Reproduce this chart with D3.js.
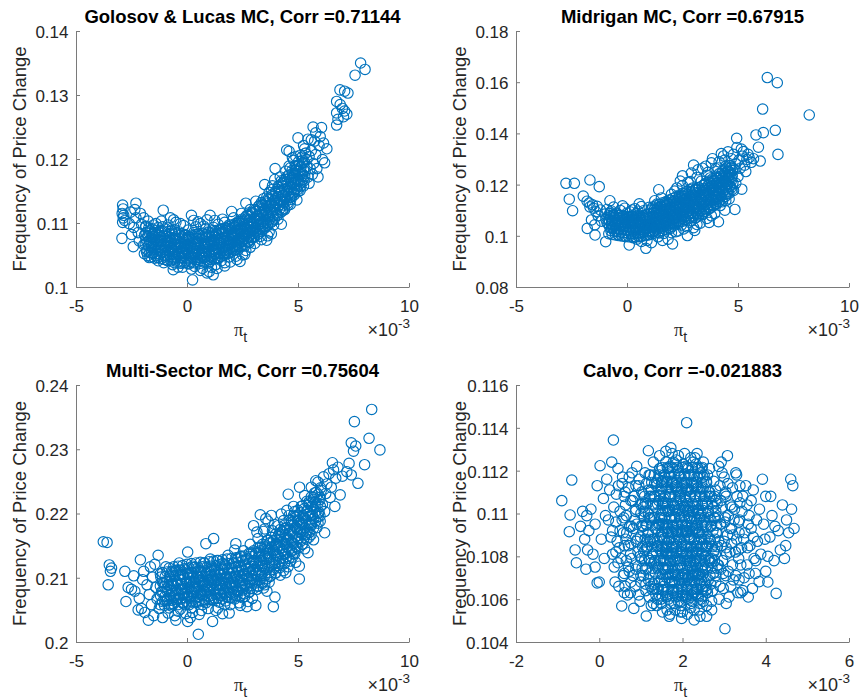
<!DOCTYPE html>
<html><head><meta charset="utf-8">
<script src="https://cdn.jsdelivr.net/npm/d3@7"></script>
<style>
body{margin:0;background:#fff}
svg{display:block}
text{font-family:"Liberation Sans",Arial,Helvetica,sans-serif;fill:#262626}
</style>
</head><body>
<svg id="c" width="861" height="700"></svg>
<script>
// x values are pi_t in units of 1e-3 (axis shows "x10^-3"), y = frequency of price change
const titles = [
  "Golosov & Lucas MC, Corr =0.71144",
  "Midrigan MC, Corr =0.67915",
  "Multi-Sector MC, Corr =0.75604",
  "Calvo, Corr =-0.021883"
];
const yLabel = "Frequency of Price Change";
const xTicks1 = [-5, 0, 5, 10];
const xTicks4 = [-2, 0, 2, 4, 6];
const yTicksGL = [0.1, 0.11, 0.12, 0.13, 0.14];
const yTicksMid = [0.08, 0.1, 0.12, 0.14, 0.16, 0.18];
const yTicksMS = [0.2, 0.21, 0.22, 0.23, 0.24];
const yTicksCalvo = [0.104, 0.106, 0.108, 0.11, 0.112, 0.114, 0.116];

const glPoints = [
[-2.9,.1128],[-2.88,.1122],[-2.92,.1115],[-2.87,.1108],[-2.9,.1101],[-2.93,.1076],[-2.85,.1112],[-2.8,.1104],
[-2.3,.1131],[-2.35,.1121],[-2.4,.1093],[-2.42,.1063],[-2.2,.1085],[-2.55,.1117],[-2.6,.1099],[-2.15,.1072],[-2.3,.1108],[-2.05,.1098],[-2.5,.1082],[-2.1,.1115],
[-1.95,.1066],[-1.9,.1081],[-1.85,.1095],[-1.8,.1058],[-1.75,.1103],[-1.7,.1072],[-1.65,.1088],[-1.6,.1053],[-1.55,.1079],[-1.5,.1097],[-1.95,.1108],[-1.7,.1046],[-1.85,.1075],[-1.6,.1066],[-1.5,.1062],
[-1.45,.1085],[-1.4,.1049],[-1.35,.1071],[-1.3,.1093],[-1.25,.1062],[-1.2,.1078],[-1.15,.1103],[-1.1,.1055],[-1.07,.112],[-1.05,.1068],[-1.0,.1086],[-1.3,.1041],[-1.2,.1057],[-1.1,.1094],[-1.0,.1047],[-1.4,.1099],[-1.15,.1072],[-1.05,.1038],
[-0.95,.1062],[-0.9,.1079],[-0.85,.1097],[-0.8,.1051],[-0.75,.1069],[-0.7,.1088],[-0.65,.1035],[-0.62,.1027],[-0.6,.1058],[-0.55,.1076],[-0.5,.1101],[-0.9,.1042],[-0.75,.1108],[-0.6,.1044],[-0.5,.1064],[-0.85,.1071],[-0.7,.106],[-0.55,.1089],[-0.8,.1083],
[-0.45,.1052],[-0.4,.1071],[-0.35,.1086],[-0.3,.1039],[-0.25,.1063],[-0.2,.1078],[-0.15,.1096],[-0.1,.1048],[-0.05,.1067],[0,.1058],[-0.4,.1031],[-0.3,.1099],[-0.2,.1055],[-0.1,.1082],[0,.1074],[-0.35,.1061],[-0.05,.1041],[-0.25,.1046],[-0.15,.107],
[0.05,.1089],[0.1,.1036],[0.15,.1062],[0.2,.1112],[0.25,.1011],[0.3,.1051],[0.35,.1071],[0.4,.1094],[0.45,.1043],[0.5,.1065],[0.1,.1078],[0.2,.1028],[0.3,.1085],[0.4,.1056],[0.5,.1102],[0.15,.1048],[0.35,.1032],[0.45,.1076],[0.25,.106],[0.05,.1054],
[0.55,.1081],[0.6,.1037],[0.65,.1057],[0.7,.1073],[0.75,.1095],[0.8,.1046],[0.85,.1063],[0.9,.1022],[0.95,.1086],[1.0,.1053],[0.6,.1099],[0.7,.1029],[0.8,.1068],[0.9,.1078],[1.0,.1038],[0.65,.1049],[0.75,.1061],[0.85,.1091],[0.95,.1066],[1.04,.1112],
[1.05,.1072],[1.1,.1047],[1.15,.1088],[1.18,.1019],[1.2,.1059],[1.25,.1079],[1.3,.1035],[1.35,.1067],[1.4,.1098],[1.45,.1053],[1.5,.1074],[1.1,.1031],[1.2,.1093],[1.3,.1062],[1.4,.1044],[1.5,.1089],[1.25,.1052],[1.35,.1082],[1.45,.1068],[1.15,.1064],
[1.55,.1041],[1.6,.1062],[1.65,.1083],[1.7,.1101],[1.75,.1054],[1.8,.1073],[1.85,.1091],[1.9,.1047],[1.95,.1066],[2.0,.1085],[1.6,.1077],[1.7,.1033],[1.8,.1058],[1.9,.1097],[2.01,.1118],[1.55,.1069],[1.65,.1052],[1.75,.1088],[1.85,.107],[1.95,.1039],
[2.05,.1059],[2.1,.1076],[2.15,.1094],[2.2,.1048],[2.25,.1067],[2.3,.1083],[2.35,.1102],[2.39,.104],[2.45,.1071],[2.5,.105],[2.1,.1108],[2.2,.1088],[2.3,.1058],[2.4,.1091],[2.5,.1079],[2.15,.1063],[2.25,.1099],[2.35,.1074],[2.45,.1115],[2.05,.1081],
[2.55,.1097],[2.6,.1064],[2.65,.1131],[2.7,.1086],[2.75,.1071],[2.8,.1104],[2.85,.1062],[2.9,.1093],[2.95,.1116],[3.0,.1079],[2.6,.1083],[2.7,.1112],[2.8,.1069],[2.9,.1077],[3.0,.1101],[2.55,.1075],[2.65,.1057],[2.75,.1094],[2.85,.1121],[2.95,.1088],
[3.05,.1068],[3.1,.1092],[3.15,.1111],[3.2,.1083],[3.25,.1127],[3.3,.1099],[3.35,.1074],[3.4,.1116],[3.45,.1138],[3.5,.116],[3.1,.1134],[3.2,.1105],[3.3,.1079],[3.4,.1093],[3.5,.1121],[3.15,.1085],[3.25,.1107],[3.35,.1132],[3.45,.1102],[3.59,.1073],
[3.55,.1094],[3.6,.1141],[3.65,.1112],[3.7,.1086],[3.75,.1129],[3.8,.1152],[3.85,.1103],[3.9,.1121],[3.95,.1168],[3.97,.1185],[3.6,.1127],[3.7,.1148],[3.8,.1083],[3.9,.1097],[4.0,.1139],[3.65,.1099],[3.75,.1117],[3.85,.1158],[3.95,.1131],[3.63,.108],
[4.05,.1114],[4.1,.1157],[4.15,.1128],[4.2,.1172],[4.25,.1098],[4.3,.1143],[4.35,.1164],[4.4,.1121],[4.45,.1181],[4.49,.1214],[4.1,.1106],[4.2,.1136],[4.3,.1119],[4.4,.1152],[4.5,.1172],[4.15,.1149],[4.25,.1166],[4.35,.1133],[4.45,.1141],[4.6,.1212],
[4.55,.1128],[4.6,.1157],[4.65,.1186],[4.7,.1141],[4.75,.1171],[4.8,.1198],[4.85,.1152],[4.9,.1182],[4.95,.1136],[5.0,.1233],[4.6,.1189],[4.7,.1163],[4.8,.1147],[4.9,.1204],[5.0,.1168],[4.65,.1129],[4.75,.1202],[4.85,.1178],[4.95,.119],[5.0,.1149],
[5.05,.1181],[5.1,.1206],[5.15,.1164],[5.2,.1194],[5.25,.1221],[5.3,.1173],[5.35,.1209],[5.4,.1188],[5.45,.1231],[5.5,.1162],[5.1,.1151],[5.2,.1177],[5.3,.1216],[5.4,.1199],[5.5,.1204],[5.6,.123],[5.68,.125],[5.55,.1185],[5.25,.1158],[5.45,.1172],
[5.6,.1213],[5.7,.1193],[5.75,.1228],[5.8,.1207],[5.9,.1172],[5.95,.1221],[6.06,.1249],[6.1,.1199],[6.2,.1194],[6.3,.1216],[5.85,.1185],[6.0,.1235],[5.65,.1176],[5.8,.1241],[6.15,.1225],
[6.74,.1253],[6.8,.1262],[6.74,.1272],[6.9,.1285],[7.1,.1275],[7.05,.1266],[6.74,.129],[6.89,.1308],[7.1,.1306],[7.25,.1303],[7.2,.127],[7.0,.1279],[7.57,.1331],[7.82,.135],[8.02,.134],
[-0.2,.1031],[0.6,.1026],[1.0,.1024],[1.35,.1029],[1.7,.1038],[2.25,.1043],[2.6,.1051],[0.9,.1105],[0.3,.1104],[-0.6,.1105],[1.6,.1106],[1.25,.1104]
];
// dense core of the Golosov & Lucas cloud
const glPointsCore = [
[-1.92,.1052],[-1.88,.1067],[-1.9,.1081],[-1.86,.1094],[-1.77,.1049],[-1.73,.1064],[-1.75,.1079],[-1.72,.1092],
[-1.62,.1047],[-1.58,.1063],[-1.61,.1077],[-1.57,.1091],[-1.46,.1045],[-1.43,.1059],[-1.47,.1075],[-1.44,.1088],
[-1.32,.1046],[-1.28,.1058],[-1.31,.1073],[-1.27,.1086],[-1.17,.1044],[-1.13,.1061],[-1.16,.1071],[-1.12,.1087],
[-1.02,.1043],[-0.98,.1058],[-1.01,.1073],[-0.97,.1091],[-0.87,.1041],[-0.83,.1056],[-0.86,.1069],[-0.82,.1087],
[-0.72,.1041],[-0.68,.1053],[-0.71,.1072],[-0.67,.1084],[-0.57,.1038],[-0.53,.1055],[-0.56,.1067],[-0.52,.1083],
[-0.42,.1039],[-0.38,.1051],[-0.41,.1066],[-0.37,.1081],[-0.27,.1037],[-0.23,.1054],[-0.26,.1068],[-0.22,.1083],
[-0.12,.1038],[-0.08,.1052],[-0.11,.1064],[-0.07,.1081],[0.03,.1037],[0.07,.105],[0.04,.1066],[0.08,.1079],
[0.18,.1039],[0.22,.1053],[0.19,.1065],[0.23,.1081],[0.33,.1038],[0.37,.1052],[0.34,.1066],[0.38,.1082],
[0.48,.1039],[0.52,.1051],[0.49,.1068],[0.53,.1083],[0.63,.1041],[0.67,.1053],[0.64,.1066],[0.68,.1084],
[0.78,.1039],[0.82,.1055],[0.79,.1067],[0.83,.1082],[0.93,.1042],[0.97,.1056],[0.94,.1069],[0.98,.1085],
[1.08,.1043],[1.12,.1055],[1.09,.1071],[1.13,.1084],[1.23,.1044],[1.27,.1058],[1.24,.1072],[1.28,.1087],
[1.38,.1046],[1.42,.1059],[1.39,.1073],[1.43,.1088],[1.53,.1048],[1.57,.1062],[1.54,.1075],[1.58,.1091],
[1.68,.105],[1.72,.1063],[1.69,.1078],[1.73,.1092],[1.83,.1052],[1.87,.1066],[1.84,.1079],[1.88,.1094],
[1.98,.1054],[2.02,.1068],[1.99,.1082],[2.03,.1097],[2.13,.1057],[2.17,.1071],[2.14,.1085],[2.18,.1099],
[2.28,.1061],[2.32,.1074],[2.29,.1089],[2.33,.1103],[2.43,.1063],[2.47,.1078],[2.44,.1092],[2.48,.1106],
[2.58,.1067],[2.62,.1081],[2.59,.1095],[2.63,.1109],[2.73,.107],[2.77,.1085],[2.74,.1099],[2.78,.1113],
[2.88,.1074],[2.92,.1089],[2.89,.1102],[2.93,.1117],[3.03,.1078],[3.07,.1093],[3.04,.1107],[3.08,.1121],
[3.18,.1082],[3.22,.1097],[3.19,.1111],[3.23,.1126],[3.33,.1087],[3.37,.1102],[3.34,.1116],[3.38,.1129],
[3.48,.1091],[3.52,.1106],[3.49,.112],[3.53,.1134],[3.63,.1096],[3.67,.1111],[3.64,.1125],[3.68,.1139],
[3.78,.1101],[3.82,.1116],[3.79,.113],[3.83,.1144],[3.93,.1106],[3.97,.1121],[3.94,.1135],[3.98,.1149],
[4.08,.1112],[4.12,.1127],[4.09,.1141],[4.13,.1156],[4.23,.1117],[4.27,.1133],[4.24,.1147],[4.28,.1162],
[4.38,.1123],[4.42,.1139],[4.39,.1153],[4.43,.1168],[4.53,.1131],[4.57,.1146],[4.54,.116],[4.58,.1175],
[4.68,.1137],[4.72,.1152],[4.69,.1167],[4.73,.1182],[4.83,.1144],[4.87,.1159],[4.84,.1174],[4.88,.1189],
[4.98,.1152],[5.02,.1166],[4.99,.1181],[5.03,.1196],[5.13,.1158],[5.17,.1173],[5.14,.1188],[5.18,.1203],
[5.28,.1166],[5.32,.1181],[5.29,.1195],[5.33,.1209]
];
const glPointsCore2 = [
[-1.825,.1055],[-1.805,.107],[-1.845,.1085],[-1.675,.1054],[-1.655,.1069],[-1.695,.1084],[-1.525,.1053],[-1.505,.1068],[-1.545,.1083],
[-1.375,.1052],[-1.355,.1067],[-1.395,.1082],[-1.225,.1051],[-1.205,.1066],[-1.245,.1081],[-1.075,.105],[-1.055,.1065],[-1.095,.108],
[-0.925,.1049],[-0.905,.1064],[-0.945,.1079],[-0.775,.1048],[-0.755,.1063],[-0.795,.1078],[-0.625,.1047],[-0.605,.1062],[-0.645,.1077],
[-0.475,.1046],[-0.455,.1061],[-0.495,.1076],[-0.325,.1046],[-0.305,.1061],[-0.345,.1076],[-0.175,.1045],[-0.155,.106],[-0.195,.1075],
[-0.025,.1045],[-0.005,.106],[-0.045,.1075],[0.125,.1045],[0.145,.106],[0.105,.1075],[0.275,.1045],[0.295,.106],[0.255,.1075],
[0.425,.1046],[0.445,.1061],[0.405,.1076],[0.575,.1046],[0.595,.1061],[0.555,.1076],[0.725,.1047],[0.745,.1062],[0.705,.1077],
[0.875,.1048],[0.895,.1063],[0.855,.1078],[1.025,.1049],[1.045,.1064],[1.005,.1079],[1.175,.105],[1.195,.1065],[1.155,.108],
[1.325,.1052],[1.345,.1067],[1.305,.1082],[1.475,.1054],[1.495,.1069],[1.455,.1084],[1.625,.1056],[1.645,.1071],[1.605,.1086],
[1.775,.1058],[1.795,.1073],[1.755,.1088],[1.925,.106],[1.945,.1075],[1.905,.109],[2.075,.1063],[2.095,.1078],[2.055,.1093],
[2.225,.1066],[2.245,.1081],[2.205,.1096],[2.375,.1069],[2.395,.1084],[2.355,.1099],[2.525,.1072],[2.545,.1087],[2.505,.1102],
[2.675,.1076],[2.695,.1091],[2.655,.1106],[2.825,.108],[2.845,.1095],[2.805,.111],[2.975,.1084],[2.995,.1099],[2.955,.1114],
[3.125,.1088],[3.145,.1103],[3.105,.1118],[3.275,.1092],[3.295,.1107],[3.255,.1122],[3.425,.1097],[3.445,.1112],[3.405,.1127],
[3.575,.1101],[3.595,.1116],[3.555,.1131],[3.725,.1106],[3.745,.1121],[3.705,.1136],[3.875,.1111],[3.895,.1126],[3.855,.1141],
[4.025,.1116],[4.045,.1131],[4.005,.1146],[4.175,.1122],[4.195,.1137],[4.155,.1152],[4.325,.1128],[4.345,.1143],[4.305,.1158],
[4.475,.1134],[4.495,.1149],[4.455,.1164],[4.625,.114],[4.645,.1155],[4.605,.117],[4.775,.1147],[4.795,.1162],[4.755,.1177],
[4.925,.1154],[4.945,.1169],[4.905,.1184],[5.075,.1161],[5.095,.1176],[5.055,.1191],[5.225,.1168],[5.245,.1183],[5.205,.1198]
];

const midPoints = [
[-2.75,.1205],[-2.37,.1205],[-1.67,.1218],[-1.25,.1192],[-2.6,.1143],[-2.45,.1098],[-1.97,.1155],[-1.8,.1135],[-1.67,.1113],[-1.79,.1029],[-1.44,.1003],[-0.96,.0977],[-0.77,.1137],[-1.55,.1121],[-1.7,.1128],[-1.5,.1108],[-1.4,.1094],[-1.6,.1062],[-1.45,.1043],[-1.3,.1078],[-1.2,.1101],[-1.35,.1115],[-1.15,.1057],
[-1.0,.1085],[-0.95,.1065],[-0.9,.1103],[-0.85,.1046],[-0.8,.1078],[-0.75,.1092],[-0.7,.1031],[-0.65,.1058],[-0.6,.1112],[-0.55,.1071],[-0.5,.1044],[-0.45,.1088],[-0.4,.1061],[-0.35,.1026],[-0.3,.1099],[-0.25,.1052],[-0.2,.1076],[-0.15,.1038],[-0.1,.1108],[-0.05,.1064],[0,.1089],[-0.9,.1051],[-0.7,.1097],[-0.5,.1019],[-0.3,.1068],[-0.1,.1041],[-0.6,.108],[-0.2,.1117],[-0.4,.1005],[-0.8,.1062],
[0.05,.1019],[0.1,.0964],[0.15,.1048],[0.2,.1075],[0.25,.1101],[0.3,.0992],[0.35,.1035],[0.4,.1063],[0.45,.1087],[0.5,.1011],[0.55,.1125],[0.6,.1049],[0.65,.0978],[0.7,.1072],[0.75,.1098],[0.8,.1027],[0.85,.0951],[0.9,.1058],[0.95,.1084],[1.0,.1004],[0.1,.1057],[0.2,.1009],[0.3,.1081],[0.4,.1026],[0.5,.1096],[0.6,.0996],[0.7,.1038],[0.8,.1066],[0.9,.0982],[1.0,.1111],[0.25,.1043],[0.45,.0987],[0.65,.1114],[0.85,.1041],[0.15,.1093],[0.55,.1068],[0.75,.1015],[0.95,.1031],[0.35,.1106],[0.05,.1072],
[1.05,.1045],[1.1,.0973],[1.15,.1071],[1.2,.1092],[1.25,.1018],[1.3,.1055],[1.35,.1124],[1.4,.0996],[1.43,.118],[1.45,.1081],[1.5,.1038],[1.55,.1148],[1.6,.1066],[1.65,.1009],[1.7,.1102],[1.75,.1052],[1.8,.1131],[1.85,.0987],[1.9,.1085],[1.95,.1029],[2.0,.1162],[1.1,.1105],[1.2,.1034],[1.3,.1088],[1.4,.1061],[1.5,.1115],[1.6,.0982],[1.7,.1047],[1.8,.1076],[1.9,.1139],[2.0,.1012],[1.15,.1016],[1.35,.1043],[1.55,.1096],[1.75,.1121],[1.95,.1108],[1.25,.1137],[1.65,.1078],[1.85,.1058],[1.45,.1011],[2.05,.0968],
[2.05,.1098],[2.1,.1047],[2.15,.1175],[2.2,.1071],[2.25,.1128],[2.3,.1019],[2.35,.1153],[2.4,.1089],[2.45,.1042],[2.5,.1196],[2.55,.1112],[2.6,.1064],[2.65,.1166],[2.7,.1035],[2.72,.1001],[2.75,.1138],[2.8,.1087],[2.85,.1212],[2.9,.1059],[2.95,.1183],[3.0,.1121],[2.1,.1137],[2.2,.1016],[2.3,.1102],[2.4,.1214],[2.5,.1076],[2.6,.1141],[2.7,.1093],[2.8,.1053],[2.9,.1157],[3.0,.1032],[2.15,.1082],[2.35,.1056],[2.55,.1027],[2.75,.1209],[2.95,.1091],[2.25,.1187],[2.45,.1127],[2.65,.1109],[2.85,.1134],[2.5,.1234],[2.9,.1245],
[3.05,.1155],[3.1,.1072],[3.15,.1228],[3.2,.1106],[3.25,.1187],[3.3,.1049],[3.35,.1143],[3.4,.1264],[3.45,.1093],[3.5,.1201],[3.55,.1124],[3.6,.1068],[3.65,.1248],[3.7,.1171],[3.75,.1109],[3.8,.1285],[3.85,.1139],[3.9,.1216],[3.95,.1087],[4.0,.1262],[3.1,.1183],[3.2,.1258],[3.3,.1131],[3.4,.1083],[3.5,.1159],[3.6,.1236],[3.7,.1052],[3.8,.1193],[3.9,.1118],[4.0,.1176],[3.15,.1044],[3.35,.1214],[3.55,.1272],[3.75,.1226],[3.95,.1151],[3.25,.1097],[3.45,.1176],[3.65,.1137],[3.85,.1301],[4.0,.1125],[3.0,.1276],[3.8,.1078],[3.05,.1021],
[4.05,.1207],[4.1,.1152],[4.12,.1055],[4.15,.1289],[4.2,.1183],[4.25,.1241],[4.3,.1133],[4.35,.1312],[4.4,.1216],[4.41,.110],[4.45,.1272],[4.5,.1163],[4.55,.1328],[4.6,.1238],[4.65,.1194],[4.7,.1301],[4.75,.1255],[4.8,.1177],[4.86,.1103],[4.9,.1281],[4.94,.1381],[5.0,.1232],[4.1,.1265],[4.2,.1118],[4.3,.1224],[4.4,.1296],[4.5,.1199],[4.6,.1144],[4.7,.1226],[4.8,.1318],[4.9,.1205],[4.0,.1125],[4.25,.1321],[4.45,.1137],[4.65,.1275],[4.85,.1258],[4.55,.1251],
[5.05,.1296],[5.1,.1264],[5.17,.1182],[5.2,.1311],[5.3,.1276],[5.4,.1298],[5.5,.1305],[5.6,.1287],[5.7,.1301],[5.81,.1394],[5.92,.1346],[6.0,.1292],[6.14,.1403],[6.68,.1412],[6.8,.1318],[6.11,.1495],[6.32,.1618],[6.77,.1598],[8.21,.1472],[5.25,.1329],[5.35,.1251],[5.15,.1339],[4.95,.1345],[5.45,.1318]
];
// dense core of the Midrigan cloud
const midPointsCore = [
[-0.82,.1008],[-0.78,.1034],[-0.81,.106],[-0.77,.1087],[-0.67,.1005],[-0.63,.1031],[-0.66,.1057],[-0.62,.1083],
[-0.52,.1003],[-0.48,.1029],[-0.51,.1055],[-0.47,.1081],[-0.37,.1001],[-0.33,.1027],[-0.36,.1053],[-0.32,.1079],
[-0.22,.0999],[-0.18,.1025],[-0.21,.1051],[-0.17,.1077],[-0.07,.0997],[-0.03,.1023],[-0.06,.1049],[-0.02,.1075],
[0.08,.0996],[0.12,.1022],[0.09,.1048],[0.13,.1074],[0.23,.0995],[0.27,.1022],[0.24,.1048],[0.28,.1075],
[0.38,.0996],[0.42,.1023],[0.39,.1049],[0.43,.1076],[0.53,.0997],[0.57,.1024],[0.54,.105],[0.58,.1077],
[0.68,.0999],[0.72,.1026],[0.69,.1052],[0.73,.1079],[0.83,.1001],[0.87,.1028],[0.84,.1054],[0.88,.1081],
[0.98,.1004],[1.02,.1031],[0.99,.1058],[1.03,.1085],[1.13,.1007],[1.17,.1035],[1.14,.1062],[1.18,.1089],[1.16,.1112],
[1.28,.1011],[1.32,.1039],[1.29,.1066],[1.33,.1093],[1.31,.1117],[1.43,.1015],[1.47,.1043],[1.44,.107],[1.48,.1097],[1.46,.1123],
[1.58,.102],[1.62,.1048],[1.59,.1075],[1.63,.1102],[1.61,.1129],[1.73,.1025],[1.77,.1053],[1.74,.108],[1.78,.1107],[1.76,.1134],
[1.88,.1031],[1.92,.1059],[1.89,.1086],[1.93,.1113],[1.91,.114],[2.03,.1037],[2.07,.1065],[2.04,.1092],[2.08,.1119],[2.06,.1146],
[2.18,.1043],[2.22,.1071],[2.19,.1098],[2.23,.1125],[2.21,.1152],[2.33,.1049],[2.37,.1078],[2.34,.1105],[2.38,.1132],[2.36,.1159],
[2.48,.1056],[2.52,.1085],[2.49,.1112],[2.53,.1139],[2.51,.1166],[2.63,.1063],[2.67,.1092],[2.64,.1119],[2.68,.1146],[2.66,.1173],
[2.78,.107],[2.82,.1099],[2.79,.1126],[2.83,.1153],[2.81,.118],[2.93,.1077],[2.97,.1106],[2.94,.1133],[2.98,.116],[2.96,.1187],
[3.08,.107],[3.12,.1099],[3.09,.1126],[3.13,.1153],[3.11,.118],[3.23,.1078],[3.27,.1107],[3.24,.1134],[3.28,.1161],[3.26,.1188],
[3.38,.1086],[3.42,.1115],[3.39,.1142],[3.43,.1169],[3.41,.1196],[3.53,.1095],[3.57,.1124],[3.54,.1151],[3.58,.1178],[3.56,.1205],
[3.68,.1104],[3.72,.1133],[3.69,.116],[3.73,.1187],[3.71,.1214],[3.83,.1113],[3.87,.1142],[3.84,.1169],[3.88,.1196],[3.86,.1223],
[3.98,.1123],[4.02,.1152],[3.99,.1179],[4.03,.1206],[4.01,.1233],[4.13,.1133],[4.17,.1162],[4.14,.1189],[4.18,.1216],[4.16,.1243],
[4.28,.1143],[4.32,.1172],[4.29,.1199],[4.33,.1226],[4.31,.1253],[4.43,.1154],[4.47,.1183],[4.44,.121],[4.48,.1237],[4.46,.1264],
[4.58,.1165],[4.62,.1194],[4.59,.1221],[4.63,.1248],[4.61,.1275],[4.73,.118],[4.77,.1207],[4.74,.1234],[4.78,.1261]
];
const midPointsCore2 = [
[-0.725,.102],[-0.705,.1047],[-0.745,.1074],[-0.575,.1018],[-0.555,.1045],[-0.595,.1072],[-0.425,.1016],[-0.405,.1043],[-0.445,.107],
[-0.275,.1014],[-0.255,.1041],[-0.295,.1068],[-0.125,.1012],[-0.105,.1039],[-0.145,.1066],[0.025,.101],[0.045,.1037],[0.005,.1064],
[0.175,.1009],[0.195,.1036],[0.155,.1063],[0.325,.1009],[0.345,.1036],[0.305,.1063],[0.475,.101],[0.495,.1037],[0.455,.1064],
[0.625,.1012],[0.645,.1039],[0.605,.1066],[0.775,.1014],[0.795,.1041],[0.755,.1068],[0.925,.1016],[0.945,.1043],[0.905,.107],
[1.075,.1019],[1.095,.1046],[1.055,.1073],[1.085,.11],[1.225,.1023],[1.245,.105],[1.205,.1077],[1.235,.1104],
[1.375,.1027],[1.395,.1054],[1.355,.1081],[1.385,.1108],[1.525,.1031],[1.545,.1058],[1.505,.1085],[1.535,.1112],
[1.675,.1036],[1.695,.1063],[1.655,.109],[1.685,.1117],[1.825,.1042],[1.845,.1069],[1.805,.1096],[1.835,.1123],
[1.975,.1048],[1.995,.1075],[1.955,.1102],[1.985,.1129],[2.125,.1054],[2.145,.1081],[2.105,.1108],[2.135,.1135],
[2.275,.106],[2.295,.1087],[2.255,.1114],[2.285,.1141],[2.425,.1066],[2.445,.1093],[2.405,.112],[2.435,.1147],
[2.575,.1073],[2.595,.11],[2.555,.1127],[2.585,.1154],[2.725,.108],[2.745,.1107],[2.705,.1134],[2.735,.1161],
[2.875,.1087],[2.895,.1114],[2.855,.1141],[2.885,.1168],[3.025,.1087],[3.045,.1114],[3.005,.1141],[3.035,.1168],
[3.175,.1088],[3.195,.1115],[3.155,.1142],[3.185,.1169],[3.325,.1096],[3.345,.1123],[3.305,.115],[3.335,.1177],
[3.475,.1104],[3.495,.1131],[3.455,.1158],[3.485,.1185],[3.625,.1113],[3.645,.114],[3.605,.1167],[3.635,.1194],
[3.775,.1122],[3.795,.1149],[3.755,.1176],[3.785,.1203],[3.925,.1132],[3.945,.1159],[3.905,.1186],[3.935,.1213],
[4.075,.1142],[4.095,.1169],[4.055,.1196],[4.085,.1223],[4.225,.1152],[4.245,.1179],[4.205,.1206],[4.235,.1233],
[4.375,.1162],[4.395,.1189],[4.355,.1216],[4.385,.1243],[4.525,.1173],[4.545,.12],[4.505,.1227],[4.535,.1254],
[4.675,.1186],[4.695,.1213],[4.655,.124],[4.685,.1267]
];

const msPoints = [
[-3.77,.2156],[-3.6,.2155],[-3.5,.212],[-3.45,.211],[-3.55,.2089],[-3.4,.2115],[-2.8,.211],[-2.75,.2063],[-2.65,.2085],[-2.1,.2128],[-1.95,.211],[-1.3,.2135],[-1.74,.2034],[-2.2,.205],[-2.5,.2082],[-2.35,.2079],[-2.0,.2097],[-2.15,.2068],[-1.9,.2046],[-1.8,.2089],[-1.7,.2074],[-1.6,.2058],[-1.55,.2101],[-1.5,.2041],[-1.4,.2085],[-1.35,.2067],[-1.25,.2052],[-1.2,.2106],[-1.15,.2078],[-1.1,.2038],[-1.05,.2092],[-2.05,.2052],[-1.65,.2117],[-1.45,.2121],[-2.4,.2103],
[-1.0,.2064],[-0.95,.2117],[-0.9,.2083],[-0.85,.2045],[-0.8,.2098],[-0.75,.2072],[-0.7,.2056],[-0.65,.2109],[-0.6,.2087],[-0.55,.2041],[-0.5,.2034],[-0.45,.2093],[-0.4,.2068],[-0.35,.2123],[-0.3,.2051],[-0.25,.2081],[-0.2,.2102],[-0.15,.2061],[-0.1,.2076],[-0.05,.2044],[0.0,.2095],[-0.9,.2066],[-0.7,.2091],[-0.5,.2076],[-0.3,.2104],[-0.1,.2058],[-0.8,.2053],[-0.6,.2069],[-0.4,.2048],[-0.2,.2083],[0.03,.214],[0.03,.2032],[-0.45,.2112],[0.0,.2071],
[0.05,.2082],[0.1,.2058],[0.15,.2104],[0.2,.2071],[0.25,.2046],[0.3,.2093],[0.35,.2116],[0.4,.2063],[0.45,.2085],[0.51,.2012],[0.55,.2101],[0.6,.2074],[0.65,.2049],[0.7,.2091],[0.75,.2123],[0.8,.2066],[0.85,.2153],[0.9,.2081],[0.95,.2052],[1.0,.2097],[0.1,.2094],[0.2,.2053],[0.3,.2077],[0.4,.2099],[0.5,.2062],[0.6,.2111],[0.7,.2058],[0.8,.2089],[0.9,.2107],[1.0,.2071],[0.15,.2038],[0.35,.2082],[0.55,.2043],[0.75,.2079],[0.95,.2092],[0.25,.2118],[0.45,.2069],[0.65,.2096],[0.85,.2061],[0.05,.2109],
[1.05,.2084],[1.1,.2111],[1.15,.2032],[1.2,.2161],[1.25,.2068],[1.3,.2095],[1.35,.2127],[1.4,.2053],[1.45,.2088],[1.5,.2106],[1.55,.2072],[1.6,.2044],[1.65,.2099],[1.7,.2118],[1.75,.2064],[1.8,.2085],[1.85,.2135],[1.9,.2045],[1.95,.2091],[2.0,.2076],[1.1,.2066],[1.2,.2093],[1.3,.2049],[1.4,.2108],[1.5,.2081],[1.6,.2122],[1.7,.2058],[1.8,.2101],[1.9,.2069],[2.0,.2112],[1.15,.2101],[1.35,.2076],[1.55,.2095],[1.75,.2089],[1.95,.2058],[1.25,.2114],[1.45,.2062],[1.65,.2077],[1.85,.2097],[1.05,.2129],
[2.05,.2089],[2.1,.2123],[2.15,.2067],[2.2,.2153],[2.25,.2098],[2.3,.2079],[2.35,.2112],[2.4,.2057],[2.45,.2134],[2.5,.2091],[2.55,.2106],[2.6,.2071],[2.65,.2128],[2.7,.2055],[2.75,.2097],[2.8,.2116],[2.85,.2083],[2.9,.2139],[2.95,.2068],[3.0,.2181],[2.1,.2084],[2.2,.2104],[2.3,.2131],[2.4,.2092],[2.5,.2069],[2.6,.2117],[2.7,.2102],[2.8,.2077],[2.9,.2098],[3.0,.2124],[2.15,.2143],[2.35,.2061],[2.55,.2142],[2.75,.2063],[2.95,.2111],[2.25,.2072],[2.45,.2101],[2.65,.2088],[2.85,.2152],[3.1,.2057],
[3.05,.2095],[3.1,.2138],[3.15,.2082],[3.2,.2161],[3.25,.2109],[3.3,.2198],[3.35,.2127],[3.4,.2091],[3.45,.2172],[3.5,.2115],[3.55,.2146],[3.6,.2079],[3.65,.2188],[3.7,.2131],[3.75,.2102],[3.8,.2163],[3.85,.2121],[3.89,.2055],[3.96,.207],[4.0,.2152],[3.1,.2112],[3.2,.2087],[3.3,.2148],[3.4,.2119],[3.5,.2176],[3.6,.2138],[3.7,.2093],[3.8,.2197],[3.9,.2142],[4.0,.2107],[3.15,.2171],[3.35,.2103],[3.55,.2192],[3.75,.2155],[3.95,.2183],[3.25,.2139],[3.45,.2084],[3.65,.2158],[3.85,.2173],[3.5,.2089],
[4.05,.2135],[4.1,.2181],[4.15,.2122],[4.2,.2164],[4.25,.2199],[4.3,.2143],[4.35,.2111],[4.4,.2177],[4.45,.2152],[4.5,.2205],[4.56,.223],[4.6,.2168],[4.65,.2126],[4.7,.2189],[4.75,.2154],[4.8,.2211],[4.85,.2137],[4.9,.2178],[4.95,.2196],[5.0,.2161],[4.1,.2148],[4.2,.2104],[4.3,.2172],[4.4,.2136],[4.5,.2159],[4.6,.2197],[4.7,.2143],[4.8,.2171],[4.9,.2124],[5.0,.2188],[4.15,.2168],[4.35,.2189],[4.55,.2117],[4.75,.2132],[4.95,.2148],[4.45,.2108],[4.85,.2203],[5.07,.2241],[5.06,.2098],[5.06,.2118],
[5.1,.2175],[5.15,.2211],[5.2,.2152],[5.25,.2193],[5.3,.2228],[5.35,.2167],[5.4,.2204],[5.45,.2139],[5.5,.2218],[5.55,.2182],[5.6,.2241],[5.65,.2197],[5.7,.2159],[5.75,.2232],[5.8,.2213],[5.85,.2178],[5.9,.2249],[5.95,.2202],[6.0,.2188],[6.05,.2236],[6.1,.2214],[6.2,.217],[6.15,.2257],[6.25,.2231],[5.2,.2185],[5.4,.2171],[5.6,.2186],[5.8,.2251],[6.0,.2222],[5.3,.2145],[5.5,.2163],[5.7,.2225],[5.9,.2195],[6.3,.2246],[6.2,.2203],
[6.4,.2262],[6.5,.2241],[6.66,.2211],[6.6,.2268],[6.7,.2255],[6.9,.2229],[6.8,.2272],[7.0,.2258],[7.2,.2265],[7.3,.2278],[7.4,.226],[7.7,.2247],[8.0,.2276],[7.4,.231],[7.6,.2305],[7.5,.2297],[7.54,.2343],[8.32,.2362],[8.2,.2317],[8.69,.2299],[6.45,.2225],[6.55,.2279]
];
// dense core of the Multi-Sector cloud
const msPointsCore = [
[-1.21,.2058],[-1.19,.2072],[-1.2,.2087],[-1.18,.2101],[-1.01,.2057],[-0.99,.2071],[-1.02,.2086],[-0.98,.2102],
[-0.81,.2058],[-0.79,.2073],[-0.82,.2088],[-0.78,.2102],[-0.8,.2115],[-0.61,.2059],[-0.59,.2072],[-0.62,.2089],[-0.58,.2103],[-0.6,.2117],
[-0.41,.2058],[-0.39,.2075],[-0.42,.2089],[-0.38,.2104],[-0.4,.2118],[-0.21,.2061],[-0.19,.2074],[-0.22,.2091],[-0.18,.2105],[-0.2,.2119],
[-0.01,.2062],[0.01,.2077],[-0.02,.2092],[0.02,.2106],[0,.2121],[0.19,.2063],[0.21,.2078],[0.18,.2094],[0.22,.2108],[0.2,.2122],
[0.39,.2062],[0.41,.2079],[0.38,.2093],[0.42,.2109],[0.4,.2123],[0.59,.2065],[0.61,.2078],[0.58,.2095],[0.62,.2108],[0.6,.2124],
[0.79,.2064],[0.81,.2079],[0.78,.2094],[0.82,.211],[0.8,.2123],[0.99,.2066],[1.01,.208],[0.98,.2096],[1.02,.2109],[1.0,.2125],
[1.19,.2065],[1.21,.2082],[1.18,.2097],[1.22,.2111],[1.2,.2126],[1.39,.2068],[1.41,.2081],[1.38,.2098],[1.42,.2112],[1.4,.2127],
[1.59,.2067],[1.61,.2083],[1.58,.2099],[1.62,.2113],[1.6,.2128],[1.79,.207],[1.81,.2084],[1.78,.21],[1.82,.2114],[1.8,.2129],
[1.99,.2069],[2.01,.2086],[1.98,.2101],[2.02,.2115],[2.0,.213],[2.19,.2072],[2.21,.2086],[2.18,.2102],[2.22,.2117],[2.2,.2131],
[2.39,.2071],[2.41,.2088],[2.38,.2103],[2.42,.2117],[2.4,.2133],[2.59,.2075],[2.61,.2089],[2.58,.2105],[2.62,.212],[2.6,.2134],
[2.79,.2078],[2.81,.2093],[2.78,.2109],[2.82,.2123],[2.8,.2138],[2.99,.2083],[3.01,.2097],[2.98,.2113],[3.02,.2127],[3.0,.2142],
[3.19,.2087],[3.21,.2103],[3.18,.2118],[3.22,.2132],[3.2,.2147],[3.39,.2093],[3.41,.2107],[3.38,.2123],[3.42,.2137],[3.4,.2152],
[3.59,.2098],[3.61,.2113],[3.58,.2129],[3.62,.2143],[3.6,.2158],[3.79,.2104],[3.81,.2118],[3.78,.2134],[3.82,.2148],[3.8,.2163],
[3.99,.2108],[4.01,.2124],[3.98,.2139],[4.02,.2153],[4.0,.2168],[4.19,.2116],[4.21,.213],[4.18,.2146],[4.22,.216],[4.2,.2175],
[4.39,.2122],[4.41,.2138],[4.38,.2153],[4.42,.2167],[4.4,.2182],[4.59,.213],[4.61,.2144],[4.58,.216],[4.62,.2174],[4.6,.2189],
[4.79,.2137],[4.81,.2153],[4.78,.2168],[4.82,.2182],[4.8,.2197],[4.99,.2146],[5.01,.216],[4.98,.2176],[5.02,.219],[5.0,.2205],
[5.19,.2152],[5.21,.2168],[5.18,.2183],[5.22,.2197],[5.2,.2212],[5.39,.216],[5.41,.2174],[5.38,.219],[5.42,.2204],[5.4,.2219],
[5.59,.2167],[5.61,.2182],[5.58,.2197],[5.62,.2211],[5.6,.2226],[5.79,.2188],[5.81,.2204],[5.78,.2218],[5.82,.2233],
[5.99,.2196],[6.01,.2211],[5.98,.2225],[6.02,.224]
];
const msPointsCore2 = [
[-1.1,.2063],[-1.09,.2078],[-1.11,.2093],[-1.1,.2108],[-0.9,.2064],[-0.89,.2079],[-0.91,.2094],[-0.9,.2109],
[-0.7,.2065],[-0.69,.208],[-0.71,.2095],[-0.7,.211],[-0.5,.2066],[-0.49,.2081],[-0.51,.2096],[-0.5,.2111],
[-0.3,.2067],[-0.29,.2082],[-0.31,.2097],[-0.3,.2112],[-0.1,.2069],[-0.09,.2084],[-0.11,.2099],[-0.1,.2114],
[0.1,.207],[0.11,.2085],[0.09,.21],[0.1,.2115],[0.3,.2071],[0.31,.2086],[0.29,.2101],[0.3,.2116],
[0.5,.2071],[0.51,.2086],[0.49,.2101],[0.5,.2116],[0.7,.2072],[0.71,.2087],[0.69,.2102],[0.7,.2117],
[0.9,.2072],[0.91,.2087],[0.89,.2102],[0.9,.2117],[1.1,.2073],[1.11,.2088],[1.09,.2103],[1.1,.2118],
[1.3,.2074],[1.31,.2089],[1.29,.2104],[1.3,.2119],[1.5,.2075],[1.51,.209],[1.49,.2105],[1.5,.212],
[1.7,.2076],[1.71,.2091],[1.69,.2106],[1.7,.2121],[1.9,.2077],[1.91,.2092],[1.89,.2107],[1.9,.2122],
[2.1,.2078],[2.11,.2093],[2.09,.2108],[2.1,.2123],[2.3,.2079],[2.31,.2094],[2.29,.2109],[2.3,.2124],
[2.5,.2081],[2.51,.2096],[2.49,.2111],[2.5,.2126],[2.7,.2084],[2.71,.2099],[2.69,.2114],[2.7,.2129],
[2.9,.2088],[2.91,.2103],[2.89,.2118],[2.9,.2133],[3.1,.2092],[3.11,.2107],[3.09,.2122],[3.1,.2137],
[3.3,.2097],[3.31,.2112],[3.29,.2127],[3.3,.2142],[3.5,.2103],[3.51,.2118],[3.49,.2133],[3.5,.2148],
[3.7,.2108],[3.71,.2123],[3.69,.2138],[3.7,.2153],[3.9,.2113],[3.91,.2128],[3.89,.2143],[3.9,.2158],
[4.1,.2119],[4.11,.2134],[4.09,.2149],[4.1,.2164],[4.3,.2126],[4.31,.2141],[4.29,.2156],[4.3,.2171],
[4.5,.2133],[4.51,.2148],[4.49,.2163],[4.5,.2178],[4.7,.2141],[4.71,.2156],[4.69,.2171],[4.7,.2186],
[4.9,.2149],[4.91,.2164],[4.89,.2179],[4.9,.2194],[5.1,.2156],[5.11,.2171],[5.09,.2186],[5.1,.2201],
[5.3,.2163],[5.31,.2178],[5.29,.2193],[5.3,.2208],[5.5,.217],[5.51,.2185],[5.49,.22],[5.5,.2215],
[5.7,.2177],[5.71,.2192],[5.69,.2207],[5.7,.2222],[5.9,.2185],[5.91,.22],[5.89,.2215],[5.9,.223]
];

const calvoPoints = [
[-0.9,.1106],[-0.66,.11156],[-0.7,.10993],[-0.72,.10915],[-0.58,.1083],[-0.55,.1077],[-0.32,.1074],[-0.05,.10676],[0.0,.1068],[-0.4,.1101],[-0.3,.1099],[-0.25,.1092],[-0.35,.1088],[-0.2,.1102],[-0.15,.1081],[-0.1,.1095],[0.02,.11223],[-0.05,.1113],[0.1,.1107],[-0.45,.1094],[-0.28,.1083],[0.05,.1088],[0.15,.1099],[-0.1,.1075],[0.12,.1079],[0.18,.1116],
[0.34,.11343],[0.3,.1124],[0.45,.1121],[0.25,.1111],[0.35,.1103],[0.55,.1114],[0.6,.1108],[0.4,.1096],[0.28,.1089],[0.5,.1092],[0.65,.1099],[0.7,.1085],[0.32,.1081],[0.45,.1077],[0.58,.1071],[0.7,.1075],[0.38,.1068],[0.54,.10568],[0.75,.1063],[0.62,.1066],[0.8,.1106],[0.72,.1117],[0.48,.1084],[0.22,.1097],[0.66,.1091],[0.78,.1079],
[0.83,.10557],[0.9,.1122],[0.95,.1113],[1.0,.1104],[0.85,.1097],[1.05,.1094],[0.92,.1088],[1.1,.1083],[0.88,.1076],[1.0,.1071],[1.12,.1067],[0.95,.1062],[1.13,.10521],[1.18,.11293],[1.2,.1118],[1.25,.1111],[1.3,.1104],[1.22,.1098],[1.35,.1093],[1.15,.1087],[1.28,.1081],[1.38,.1076],[1.2,.1072],[1.32,.1065],[1.4,.106],[1.25,.1057],[1.05,.1109],[0.98,.108],[1.08,.1101],[1.33,.1114],[1.18,.1091],[1.4,.1087],
[1.45,.1121],[1.5,.1113],[1.55,.1107],[1.6,.1101],[1.45,.1095],[1.52,.1089],[1.58,.1083],[1.63,.1078],[1.48,.1072],[1.55,.1066],[1.63,.10549],[1.6,.1061],[1.72,.11307],[1.7,.1122],[1.75,.1115],[1.68,.1109],[1.8,.1103],[1.73,.1097],[1.85,.1092],[1.78,.1086],[1.7,.108],[1.82,.1074],[1.76,.1068],[1.88,.1063],[1.8,.1058],[1.9,.1118],[1.95,.111],[1.92,.1102],[1.98,.1095],[1.9,.1089],[1.96,.1082],[1.93,.1076],[1.99,.107],[1.91,.1065],[1.97,.1059],[1.65,.1093],[1.5,.1098],[1.85,.1125],[1.58,.1117],[1.75,.1072],[1.67,.1087],[1.87,.1079],[1.54,.1078],[1.62,.107],[1.95,.1054],[1.83,.1112],
[2.02,.1123],[2.05,.1114],[2.08,.1106],[2.03,.1099],[2.1,.1092],[2.06,.1085],[2.12,.1078],[2.04,.1072],[2.1,.1066],[2.07,.106],[2.1,.11424],[2.15,.1118],[2.2,.111],[2.18,.1103],[2.22,.1096],[2.16,.1089],[2.24,.1082],[2.19,.1075],[2.25,.1068],[2.21,.1062],[2.28,.10503],[2.2,.1056],[2.3,.1126],[2.35,.1117],[2.32,.1108],[2.38,.11],[2.3,.1093],[2.36,.1086],[2.33,.1079],[2.4,.1072],[2.34,.1065],[2.42,.1058],[2.45,.1121],[2.5,.1112],[2.47,.1104],[2.52,.1096],[2.46,.1088],[2.54,.108],[2.48,.1073],[2.55,.1066],[2.5,.1059],[2.58,.1052],[2.14,.1099],[2.27,.1113],[2.41,.1091],[2.56,.1085],[2.13,.107],[2.26,.1077],[2.44,.1067],[2.39,.1083],
[2.6,.1118],[2.65,.111],[2.62,.1101],[2.68,.1094],[2.64,.1086],[2.7,.1079],[2.66,.1071],[2.72,.1064],[2.75,.1115],[2.8,.1106],[2.78,.1098],[2.83,.1091],[2.77,.1083],[2.85,.1076],[2.8,.1068],[2.88,.106],[2.93,.1124],[2.9,.1113],[2.95,.1103],[2.92,.1095],[3.0,.1087],[2.96,.1078],[3.02,.10462],[3.05,.1108],[3.1,.1099],[3.08,.109],[3.14,.1082],[3.1,.1073],[3.16,.1066],[3.05,.1058],[3.2,.1112],[3.18,.1093],[2.7,.1055],[2.87,.1122],[3.0,.1117],[2.98,.1065],
[3.3,.1118],[3.25,.1102],[3.3,.1088],[3.35,.1079],[3.28,.1071],[3.4,.1063],[3.35,.1096],[3.45,.1108],[3.5,.1091],[3.42,.1084],[3.55,.1076],[3.48,.107],[3.6,.1099],[3.55,.1104],[3.62,.1085],[3.68,.1065],[3.7,.1111],[3.65,.1093],[3.72,.1079],[3.75,.1072],[3.8,.1087],[3.84,.10682],[3.85,.1102],[3.88,.1081],[3.92,.1116],[3.58,.1061],[3.38,.1113],[3.78,.1097],
[3.95,.1095],[4.0,.1108],[4.05,.108],[4.1,.1089],[4.0,.1073],[4.15,.1099],[4.2,.1078],[4.25,.10627],[4.3,.1092],[4.35,.1083],[4.4,.1104],[4.45,.1079],[4.48,.1085],[4.5,.1097],[4.55,.1091],[4.6,.1116],[4.65,.1113],[4.68,.1093],[4.62,.1102],[4.12,.1108],[3.98,.1088],[4.22,.1094],[4.05,.1068],
[0.6,.1063],[1.5,.1058],[1.7,.1053],[2.0,.1054],[2.4,.1055],[2.6,.1063],[1.3,.1058],[2.9,.1066],
[1.52,.1104],[1.57,.1093],[1.62,.1086],[1.66,.1075],[1.69,.1102],[1.74,.1091],[1.77,.1081],[1.79,.1064],[1.84,.1098],[1.86,.1087],[1.89,.1071],[1.94,.1106],[1.97,.1091],[2.0,.1079],[2.01,.1063],[2.04,.1103],[2.07,.1094],[2.09,.1081],[2.11,.1069],[2.14,.1111],[2.17,.1093],[2.19,.1084],[2.22,.1071],[2.23,.1059],[2.26,.1101],[2.29,.1088],[2.31,.1076],[2.34,.1097],[2.37,.1069],[2.43,.1099],[2.49,.1081],[1.72,.1117],[1.81,.1068],[2.06,.1118],[2.29,.1063],[1.6,.1081],[1.88,.1095],[2.16,.1077],[2.45,.1075],[1.46,.1083]
];
// surrounding (less dense) part of the Calvo cloud
const calvoPointsFringe = [
[0.32,.1092],[0.36,.1075],[0.41,.1109],[0.43,.1087],[0.47,.1066],[0.5,.1101],[0.52,.1079],[0.56,.1117],[0.58,.1091],[0.63,.1104],
[0.65,.1078],[0.68,.1062],[0.7,.1112],[0.73,.1094],[0.76,.1086],[0.79,.1119],[0.81,.1071],[0.84,.1108],[0.86,.1066],[0.9,.1095],
[0.93,.1082],[0.96,.1116],[0.98,.1059],[0.4,.1082],[0.55,.1097],[0.72,.1073],[0.88,.1102],[0.46,.1113],[0.64,.1088],[0.82,.1093],
[2.95,.1119],[2.98,.1072],[3.02,.1096],[3.06,.1081],[3.09,.1114],[3.12,.1061],[3.15,.1104],[3.18,.1086],[3.22,.1069],[3.24,.1097],
[3.27,.1082],[3.31,.1108],[3.33,.1063],[3.36,.1091],[3.4,.1076],[3.43,.1101],[3.47,.1088],[3.52,.1113],[3.56,.1084],[3.6,.1072],
[3.65,.1106],[3.7,.1089],[3.76,.1078],[3.08,.1127],[3.28,.1119],[3.45,.1064],[3.14,.1093],[3.38,.1105],[3.58,.1095],[3.02,.1109],
[1.3,.1124],[1.45,.1127],[1.6,.1129],[1.75,.1128],[1.9,.1127],[2.05,.1128],[2.2,.1126],[2.35,.1128],[2.5,.1124],[2.65,.1121],
[1.38,.1057],[1.52,.1054],[1.68,.1052],[1.82,.1055],[1.98,.1051],[2.12,.1053],[2.28,.1055],[2.42,.1052],[2.58,.1057],[2.7,.1059],[1.2,.1061],[1.1,.1119]
];
// dense core of the Calvo cloud
const calvoPointsCore = [
[0.6,.1072],[0.61,.1085],[0.59,.1098],[0.62,.111],[0.76,.1068],[0.75,.1081],[0.77,.1094],[0.76,.1106],
[0.88,.1074],[0.89,.1087],[0.87,.1101],[0.88,.1113],
[1.0,.1068],[1.01,.1079],[0.99,.1089],[1.0,.11],[1.02,.111],
[1.12,.1064],[1.11,.1074],[1.13,.1084],[1.12,.1095],[1.11,.1105],[1.13,.1114],
[1.24,.1066],[1.25,.1077],[1.23,.1087],[1.24,.1097],[1.25,.1108],[1.23,.1118],
[1.36,.1062],[1.35,.1072],[1.37,.1082],[1.36,.1093],[1.35,.1103],[1.37,.1113],
[1.48,.106],[1.49,.1069],[1.47,.1079],[1.48,.109],[1.49,.11],[1.47,.111],[1.48,.112],
[1.6,.1063],[1.59,.1074],[1.61,.1084],[1.6,.1095],[1.59,.1105],[1.61,.1115],[1.6,.1124],
[1.72,.1058],[1.73,.1068],[1.71,.1078],[1.72,.1089],[1.73,.1099],[1.71,.1109],[1.72,.1119],
[1.84,.1061],[1.83,.1071],[1.85,.1082],[1.84,.1092],[1.83,.1102],[1.85,.1113],[1.84,.1123],
[1.96,.1057],[1.97,.1066],[1.95,.1076],[1.96,.1087],[1.97,.1097],[1.95,.1107],[1.96,.1117],
[2.08,.1061],[2.07,.1071],[2.09,.1081],[2.08,.1091],[2.07,.1102],[2.09,.1112],[2.08,.1122],
[2.2,.1058],[2.21,.1067],[2.19,.1077],[2.2,.1088],[2.21,.1098],[2.19,.1108],[2.2,.1118],
[2.32,.1062],[2.31,.1072],[2.33,.1082],[2.32,.1093],[2.31,.1103],[2.33,.1113],[2.32,.1123],
[2.44,.106],[2.45,.1069],[2.43,.1079],[2.44,.1089],[2.45,.11],[2.43,.111],[2.44,.1119],
[2.56,.1064],[2.55,.1074],[2.57,.1084],[2.56,.1094],[2.55,.1105],[2.57,.1115],
[2.68,.1067],[2.69,.1077],[2.67,.1087],[2.68,.1097],[2.69,.1108],
[2.8,.1071],[2.79,.1081],[2.81,.1091],[2.8,.1101],[2.79,.1111],
[2.92,.1074],[2.93,.1085],[2.91,.1095],[2.92,.1106],
[3.04,.1071],[3.05,.1084],[3.03,.1098],[3.04,.111],[3.2,.1076],[3.21,.109],[3.19,.1103],[3.36,.1069],[3.35,.1083],[3.37,.1097]
];
const calvoPointsCore2 = [
[1.06,.1071],[1.07,.1082],[1.05,.1092],[1.06,.1103],
[1.18,.1069],[1.19,.1079],[1.17,.109],[1.18,.11],[1.19,.1111],
[1.3,.1067],[1.31,.1077],[1.29,.1088],[1.3,.1098],[1.31,.1108],
[1.42,.1065],[1.43,.1075],[1.41,.1085],[1.42,.1095],[1.43,.1106],[1.41,.1116],
[1.54,.1064],[1.55,.1074],[1.53,.1084],[1.54,.1095],[1.55,.1105],[1.53,.1115],
[1.66,.106],[1.67,.107],[1.65,.1081],[1.66,.1091],[1.67,.1101],[1.65,.1112],[1.66,.1121],
[1.78,.1063],[1.79,.1073],[1.77,.1084],[1.78,.1094],[1.79,.1104],[1.77,.1114],[1.78,.1124],
[1.9,.1059],[1.91,.1069],[1.89,.1079],[1.9,.109],[1.91,.11],[1.89,.111],[1.9,.112],
[2.02,.1062],[2.03,.1072],[2.01,.1082],[2.02,.1092],[2.03,.1103],[2.01,.1113],[2.02,.1123],
[2.14,.106],[2.15,.107],[2.13,.108],[2.14,.109],[2.15,.1101],[2.13,.1111],[2.14,.1121],
[2.26,.1063],[2.27,.1073],[2.25,.1083],[2.26,.1093],[2.27,.1104],[2.25,.1114],[2.26,.1124],
[2.38,.1061],[2.39,.1071],[2.37,.1081],[2.38,.1091],[2.39,.1102],[2.37,.1112],[2.38,.1121],
[2.5,.1066],[2.51,.1076],[2.49,.1086],[2.5,.1097],[2.51,.1107],[2.49,.1117],
[2.62,.1069],[2.63,.1079],[2.61,.1089],[2.62,.11],[2.63,.111],
[2.74,.1072],[2.75,.1082],[2.73,.1092],[2.74,.1103],
[2.86,.1076],[2.87,.1087],[2.85,.1098]
];
const calvoPointsCore3 = [
[1.03,.10745],[1.04,.10845],[1.02,.10945],[1.03,.11045],[1.15,.10745],[1.16,.10845],[1.14,.10945],[1.15,.11045],
[1.27,.10645],[1.28,.10745],[1.26,.10845],[1.27,.10945],[1.28,.11045],[1.26,.11145],
[1.39,.10645],[1.4,.10745],[1.38,.10845],[1.39,.10945],[1.4,.11045],[1.38,.11145],
[1.51,.10645],[1.52,.10745],[1.5,.10845],[1.51,.10945],[1.52,.11045],[1.5,.11145],
[1.63,.10645],[1.64,.10745],[1.62,.10845],[1.63,.10945],[1.64,.11045],[1.62,.11145],
[1.75,.10645],[1.76,.10745],[1.74,.10845],[1.75,.10945],[1.76,.11045],[1.74,.11145],
[1.87,.10645],[1.88,.10745],[1.86,.10845],[1.87,.10945],[1.88,.11045],[1.86,.11145],
[1.99,.10645],[2.0,.10745],[1.98,.10845],[1.99,.10945],[2.0,.11045],[1.98,.11145],
[2.11,.10645],[2.12,.10745],[2.1,.10845],[2.11,.10945],[2.12,.11045],[2.1,.11145],
[2.23,.10645],[2.24,.10745],[2.22,.10845],[2.23,.10945],[2.24,.11045],[2.22,.11145],
[2.35,.10645],[2.36,.10745],[2.34,.10845],[2.35,.10945],[2.36,.11045],[2.34,.11145],
[2.47,.10645],[2.48,.10745],[2.46,.10845],[2.47,.10945],[2.48,.11045],[2.46,.11145],
[2.59,.10645],[2.6,.10745],[2.58,.10845],[2.59,.10945],[2.6,.11045],[2.58,.11145],
[2.71,.10745],[2.72,.10845],[2.7,.10945],[2.71,.11045],[2.83,.10745],[2.84,.10845],[2.82,.10945],[2.83,.11045],
[1.09,.1078],[1.1,.1088],[1.08,.1098],[1.09,.1108],[1.21,.1078],[1.22,.1088],[1.2,.1098],[1.21,.1108],
[1.33,.1068],[1.34,.1078],[1.32,.1088],[1.33,.1098],[1.34,.1108],[1.32,.1118],
[1.45,.1068],[1.46,.1078],[1.44,.1088],[1.45,.1098],[1.46,.1108],[1.44,.1118],
[1.57,.1068],[1.58,.1078],[1.56,.1088],[1.57,.1098],[1.58,.1108],[1.56,.1118],
[1.69,.1068],[1.7,.1078],[1.68,.1088],[1.69,.1098],[1.7,.1108],[1.68,.1118],
[1.81,.1068],[1.82,.1078],[1.8,.1088],[1.81,.1098],[1.82,.1108],[1.8,.1118],
[1.93,.1068],[1.94,.1078],[1.92,.1088],[1.93,.1098],[1.94,.1108],[1.92,.1118],
[2.05,.1068],[2.06,.1078],[2.04,.1088],[2.05,.1098],[2.06,.1108],[2.04,.1118],
[2.17,.1068],[2.18,.1078],[2.16,.1088],[2.17,.1098],[2.18,.1108],[2.16,.1118],
[2.29,.1068],[2.3,.1078],[2.28,.1088],[2.29,.1098],[2.3,.1108],[2.28,.1118],
[2.41,.1068],[2.42,.1078],[2.4,.1088],[2.41,.1098],[2.42,.1108],[2.4,.1118],
[2.53,.1068],[2.54,.1078],[2.52,.1088],[2.53,.1098],[2.54,.1108],[2.52,.1118],
[2.65,.1078],[2.66,.1088],[2.64,.1098],[2.65,.1108],[2.77,.1078],[2.78,.1088],[2.76,.1098],[2.77,.1108],
[1.515,.10615],[1.525,.10715],[1.505,.10815],[1.515,.10915],[1.525,.11015],[1.505,.11115],[1.515,.11215],
[1.635,.10615],[1.645,.10715],[1.625,.10815],[1.635,.10915],[1.645,.11015],[1.625,.11115],[1.635,.11215],
[1.755,.10615],[1.765,.10715],[1.745,.10815],[1.755,.10915],[1.765,.11015],[1.745,.11115],[1.755,.11215],
[1.875,.10615],[1.885,.10715],[1.865,.10815],[1.875,.10915],[1.885,.11015],[1.865,.11115],[1.875,.11215],
[1.995,.10615],[2.005,.10715],[1.985,.10815],[1.995,.10915],[2.005,.11015],[1.985,.11115],[1.995,.11215],
[2.115,.10615],[2.125,.10715],[2.105,.10815],[2.115,.10915],[2.125,.11015],[2.105,.11115],[2.115,.11215],
[2.235,.10615],[2.245,.10715],[2.225,.10815],[2.235,.10915],[2.245,.11015],[2.225,.11115],[2.235,.11215],
[2.355,.10615],[2.365,.10715],[2.345,.10815],[2.355,.10915],[2.365,.11015],[2.345,.11115],[2.355,.11215],
[2.475,.10615],[2.485,.10715],[2.465,.10815],[2.475,.10915],[2.485,.11015],[2.465,.11115],[2.475,.11215]
];

const panels = [
  {title: titles[0], data: glPoints.concat(glPointsCore, glPointsCore2),                                               xd: [-5, 10], yd: [0.1, 0.14],    xt: xTicks1, yt: yTicksGL,    l: 76,  r: 409, t: 31,  b: 287},
  {title: titles[1], data: midPoints.concat(midPointsCore, midPointsCore2),                                            xd: [-5, 10], yd: [0.08, 0.18],   xt: xTicks1, yt: yTicksMid,   l: 516, r: 849, t: 31,  b: 287},
  {title: titles[2], data: msPoints.concat(msPointsCore, msPointsCore2),                                               xd: [-5, 10], yd: [0.2, 0.24],    xt: xTicks1, yt: yTicksMS,    l: 76,  r: 409, t: 385, b: 642},
  {title: titles[3], data: calvoPoints.concat(calvoPointsFringe, calvoPointsCore, calvoPointsCore2, calvoPointsCore3), xd: [-2, 6],  yd: [0.104, 0.116], xt: xTicks4, yt: yTicksCalvo, l: 516, r: 849, t: 385, b: 642}
];

const svg = d3.select("#c");
const fmt = d => String(+d.toFixed(4));
const axisColor = "#7a7a7a";

panels.forEach(p => {
  const x = d3.scaleLinear().domain(p.xd).range([p.l, p.r]);
  const y = d3.scaleLinear().domain(p.yd).range([p.b, p.t]);
  const g = svg.append("g");

  g.append("g").selectAll("circle").data(p.data).join("circle")
    .attr("cx", d => x(d[0])).attr("cy", d => y(d[1]))
    .attr("r", 5.2).attr("fill", "none")
    .attr("stroke", "#0072BD").attr("stroke-width", 1.15);

  const ay = g.append("g").attr("transform", `translate(${p.l},0)`)
    .call(d3.axisLeft(y).tickValues(p.yt).tickFormat(fmt).tickSizeInner(-4).tickSizeOuter(0).tickPadding(7.5));
  const ax = g.append("g").attr("transform", `translate(0,${p.b})`)
    .call(d3.axisBottom(x).tickValues(p.xt).tickFormat(d => String(d)).tickSizeInner(-4).tickSizeOuter(0).tickPadding(13));
  [ay, ax].forEach(a => {
    a.attr("font-family", null).attr("font-size", null);
    a.select(".domain").attr("stroke", axisColor);
    a.selectAll(".tick line").attr("stroke", axisColor);
    a.selectAll(".tick text").attr("fill", "#262626").style("font-size", "17px");
  });
  ay.selectAll(".tick text").attr("dy", "0.38em");

  g.append("text").attr("x", (p.l + p.r) / 2).attr("y", p.t - 8.5)
    .attr("text-anchor", "middle").style("font-size", "18.5px").style("font-weight", "bold")
    .style("fill", "#000").text(p.title);

  g.append("text").attr("transform", `translate(${p.l - 50},${(p.t + p.b) / 2}) rotate(-90)`)
    .attr("text-anchor", "middle").style("font-size", "18.5px").text(yLabel);

  const xl = g.append("text").attr("x", (p.l + p.r) / 2 - 2).attr("y", p.b + 49)
    .attr("text-anchor", "middle").style("font-size", "18.5px");
  xl.append("tspan").style("font-family", "'Liberation Serif','DejaVu Serif',serif").text("π");
  xl.append("tspan").attr("dy", 6).style("font-size", "14px").text("t");

  const ex = g.append("text").attr("x", p.r + 1).attr("y", p.b + 49)
    .attr("text-anchor", "end").style("font-size", "18px");
  ex.append("tspan").text("×10");
  ex.append("tspan").attr("dy", -8).style("font-size", "13.5px").text("-3");
});
</script>
</body></html>
